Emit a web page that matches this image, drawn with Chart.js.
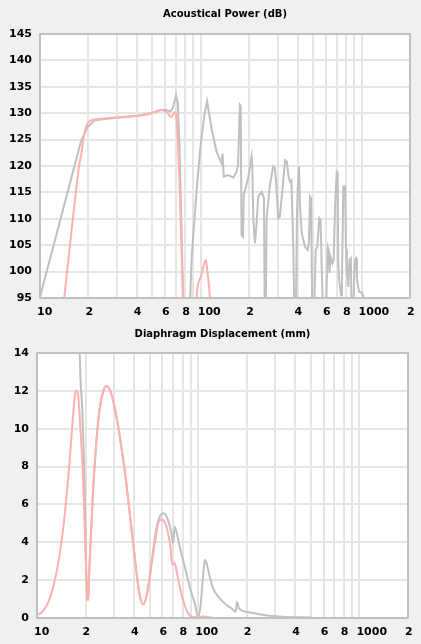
<!DOCTYPE html>
<html>
<head>
<meta charset="utf-8">
<script src="https://cdn.jsdelivr.net/npm/chart.js@4.4.1/dist/chart.umd.min.js"></script>
<style>
  html, body { margin: 0; padding: 0; background: #f0f0f0; }
  canvas { display: block; }
</style>
</head>
<body>
<canvas id="powerChart" width="421" height="320"></canvas>
<canvas id="dispChart" width="421" height="324"></canvas>
<script>
// frequency axis ticks (Hz) and the short labels shown under them
const xTickValues = [10, 20, 30, 40, 50, 60, 70, 80, 90, 100, 200, 300, 400, 500, 600, 700, 800, 900, 1000, 2000];
const xTickLabels = ['10', '2', '', '4', '', '6', '', '8', '', '100', '2', '', '4', '', '6', '', '8', '', '1000', '2'];

// Acoustical Power (dB) - pink trace
const powerPinkFreq = [14.15, 15.65, 17.6, 18.0, 18.9, 19.8, 21.8, 25.1, 32, 40.5, 45, 49, 53, 56.6, 60, 62.2, 65.5, 68.6, 70.2, 72, 73.6, 75.6, 77.4, 79, 85, 92, 94, 100, 107.4, 110, 114, 118];
const powerPinkDb = [95, 107.3, 120.5, 122, 126.2, 128.1, 128.8, 129.0, 129.3, 129.5, 129.7, 130.0, 130.4, 130.6, 130.4, 130.0, 129.3, 130.2, 129.7, 124.9, 117.3, 106, 95, 85, 85, 85, 95, 99, 102.2, 100, 95, 85];

// Acoustical Power (dB) - grey trace
const powerGrayFreq = [10, 17.96, 19.8, 21.8, 25.1, 32, 40.5, 49, 56.6, 61, 64.7, 67, 70.2, 72, 73.6, 75.6, 77.4, 79, 84, 86, 87.5, 94, 99, 101, 105, 109.5, 116.6, 125.3, 134.6, 136.5, 139, 148, 159, 167, 170.5, 175, 177, 179.3, 183, 185, 197, 207, 209, 212, 217, 222, 227.5, 239, 247, 250, 253, 256.6, 269, 282, 289, 295, 303, 310, 321, 334, 343, 350, 358, 366, 372, 376, 383, 390, 396, 400, 408, 414, 424, 445, 462, 470, 478, 485, 494, 505, 518, 530, 546, 555, 560, 568, 581, 598, 616, 626, 632, 640, 658, 670, 684, 701, 710, 715, 725, 745, 755, 770, 790, 800, 810, 828, 840, 857, 869, 885, 900, 911, 925, 935, 965, 1012, 1030];
const powerGrayDb = [95.2, 124.6, 127.4, 128.6, 128.9, 129.2, 129.5, 130.0, 130.6, 130.6, 130.3, 131, 133.4, 131.9, 124, 110, 97, 85, 85, 95, 102.2, 115, 123, 125.2, 129.5, 132.2, 127.1, 122.7, 120.5, 122.4, 118.0, 118.3, 117.8, 118.9, 120.2, 131.6, 131.4, 106.9, 106.6, 114.5, 117.7, 121.8, 120.2, 110.1, 105.4, 108.8, 114.2, 115.1, 113.9, 90, 90, 110.1, 116.4, 119.9, 119.6, 116.4, 110.1, 110.4, 115.1, 121.1, 120.8, 118.3, 117.0, 117.3, 110, 104.4, 90, 90, 110, 115.5, 119.9, 112.3, 107.3, 104.7, 104.1, 105.4, 114.2, 113.9, 90, 90, 104.1, 104.7, 110.1, 109.8, 106, 97.8, 90, 90, 104.7, 104.1, 99.7, 102.8, 101.6, 102.2, 112.3, 118.9, 118.7, 102.8, 98.4, 95.5, 98.4, 116.1, 116.1, 104.1, 99.7, 97.1, 102.2, 102.5, 90, 90, 100, 102.2, 102.5, 98.4, 96.2, 95.9, 95.2];

// Diaphragm Displacement (mm) - pink trace
const dispPinkFreq = [10, 10.8, 11.8, 12.7, 13.7, 14.7, 15.8, 16.5, 17.2, 17.6, 18.0, 18.6, 19.3, 19.8, 20.2, 20.5, 20.8, 21.0, 21.5, 22.2, 23.1, 24.2, 25.4, 26.9, 28.6, 30.7, 33.0, 35.5, 38.1, 40.9, 43.3, 45.7, 48.4, 52, 54.5, 56.3, 59.6, 63.5, 67.2, 69.2, 71.2, 73.2, 76.8, 80.5, 86.4, 93, 100, 107, 115, 125];
const dispPinkMm = [0.16, 0.33, 0.86, 1.74, 3.15, 5.09, 7.91, 10.0, 11.78, 12.0, 11.78, 10.0, 7.38, 4.56, 2.45, 1.04, 0.95, 2.1, 4.03, 6.5, 8.79, 10.72, 11.78, 12.26, 11.96, 10.9, 9.31, 7.38, 5.09, 2.8, 1.21, 0.72, 1.39, 3.15, 4.21, 5.0, 5.21, 4.82, 3.77, 2.8, 2.92, 2.54, 1.65, 0.95, 0.25, 0.04, 0.05, 0.08, 0.05, 0.0];

// Diaphragm Displacement (mm) - grey trace
const dispGrayFreq = [17.5, 18.4, 18.6, 19.1, 19.4, 19.7, 20.0, 20.2, 20.5, 20.8, 21.0, 21.5, 22.2, 23.1, 24.2, 25.4, 26.9, 28.6, 30.7, 33.0, 35.5, 38.1, 40.9, 43.3, 45.7, 48.4, 52, 55, 57.7, 61.1, 64.9, 68.2, 69.8, 71.5, 73.2, 76.8, 82.5, 88.5, 95.1, 99.7, 103.2, 107.1, 109.7, 112, 117.9, 123.6, 136, 149.6, 160.8, 171, 173.9, 179, 199, 241, 291, 353, 500];
const dispGrayMm = [20, 14, 12.66, 10.99, 9.23, 7.29, 4.5, 2.45, 1.04, 0.95, 2.1, 4.03, 6.5, 8.79, 10.72, 11.78, 12.26, 11.96, 10.9, 9.31, 7.38, 5.09, 2.8, 1.21, 0.72, 1.39, 3.3, 4.74, 5.35, 5.53, 5.18, 4.47, 3.95, 4.82, 4.56, 3.77, 2.71, 1.65, 0.78, 0.07, 0.6, 2.18, 3.06, 2.97, 2.18, 1.57, 1.04, 0.69, 0.51, 0.33, 0.86, 0.51, 0.33, 0.2, 0.1, 0.05, 0.03];

const PINK = '#ffb0b0';
const GRAY = '#c0c0c0';
const FONT = 'DejaVu Sans';

function toPoints(xs, ys) {
    return xs.map((x, i) => ({ x, y: ys[i] }));
}

// white plot area plus grey frame round it
const plotFrame = {
    id: 'plotFrame',
    beforeDraw(chart) {
        const { ctx, chartArea: a } = chart;
        ctx.save();
        ctx.fillStyle = '#ffffff';
        ctx.fillRect(a.left, a.top, a.right - a.left, a.bottom - a.top);
        ctx.restore();
    },
    afterDraw(chart) {
        const { ctx, chartArea: a } = chart;
        ctx.save();
        ctx.strokeStyle = GRAY;
        ctx.lineWidth = 2;
        ctx.strokeRect(a.left, a.top, a.right - a.left, a.bottom - a.top);
        ctx.restore();
    }
};

function makeChart(canvasId, cfg) {
    const ctx = document.getElementById(canvasId).getContext('2d');
    return new Chart(ctx, {
        type: 'line',
        data: {
            datasets: [
                {
                    data: toPoints(cfg.pinkX, cfg.pinkY),
                    borderColor: PINK,
                    borderWidth: 2,
                    pointRadius: 0,
                    cubicInterpolationMode: 'monotone',
                    clip: 0
                },
                {
                    data: toPoints(cfg.grayX, cfg.grayY),
                    borderColor: GRAY,
                    borderWidth: 2,
                    pointRadius: 0,
                    tension: 0,
                    cubicInterpolationMode: cfg.grayMode,
                    clip: 0
                }
            ]
        },
        options: {
            responsive: false,
            animation: false,
            devicePixelRatio: 1,
            layout: { padding: { left: 0, right: cfg.padRight, top: 0, bottom: 0 } },
            plugins: {
                legend: { display: false },
                tooltip: { enabled: false },
                title: {
                    display: true,
                    text: cfg.title,
                    fullSize: false,
                    color: '#000',
                    font: { family: FONT, size: 10, weight: 'bold' },
                    padding: { top: 8, bottom: cfg.titleGap }
                }
            },
            scales: {
                x: {
                    type: 'logarithmic',
                    min: 10,
                    max: 2000,
                    afterBuildTicks: (scale) => {
                        scale.ticks = xTickValues.map(v => ({ value: v }));
                    },
                    afterFit: (scale) => {
                        scale.height = cfg.xAxisHeight;
                        scale.paddingLeft = 0;
                        scale.paddingRight = 0;
                    },
                    grid: { color: '#e6e6e6', lineWidth: 2, drawTicks: false },
                    border: { display: false },
                    ticks: {
                        autoSkip: false,
                        maxRotation: 0,
                        align: 'start',
                        labelOffset: -3,
                        padding: 8,
                        color: '#000',
                        font: { family: FONT, size: 11, weight: 'bold' },
                        callback: (value, index) => xTickLabels[index]
                    }
                },
                y: {
                    min: cfg.yMin,
                    max: cfg.yMax,
                    afterFit: (scale) => {
                        scale.width = cfg.yAxisWidth;
                        scale.paddingTop = 0;
                        scale.paddingBottom = 0;
                    },
                    grid: { color: '#e6e6e6', lineWidth: 2, drawTicks: false },
                    border: { display: false },
                    ticks: {
                        stepSize: cfg.yStep,
                        padding: 8,
                        color: '#000',
                        font: { family: FONT, size: 11, weight: 'bold' }
                    }
                }
            }
        },
        plugins: [plotFrame]
    });
}

makeChart('powerChart', {
    title: 'Acoustical Power (dB)',
    pinkX: powerPinkFreq, pinkY: powerPinkDb,
    grayX: powerGrayFreq, grayY: powerGrayDb,
    grayMode: 'default',
    yMin: 95, yMax: 145, yStep: 5,
    yAxisWidth: 40, padRight: 11, xAxisHeight: 22, titleGap: 14
});

makeChart('dispChart', {
    title: 'Diaphragm Displacement (mm)',
    pinkX: dispPinkFreq, pinkY: dispPinkMm,
    grayX: dispGrayFreq, grayY: dispGrayMm,
    grayMode: 'monotone',
    yMin: 0, yMax: 14, yStep: 2,
    yAxisWidth: 37, padRight: 13, xAxisHeight: 26, titleGap: 13
});
</script>
</body>
</html>
